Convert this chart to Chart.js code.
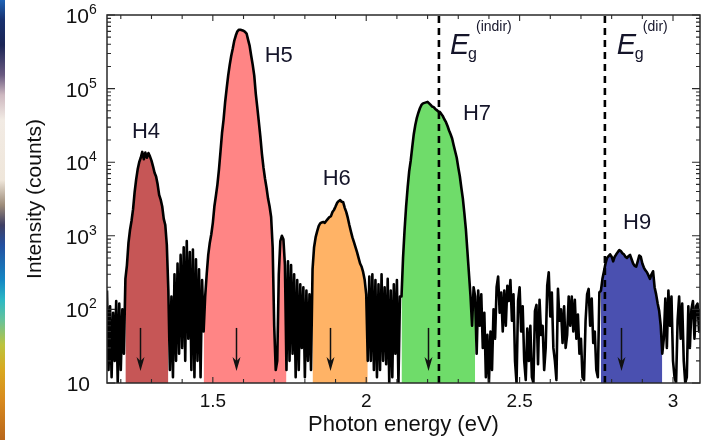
<!DOCTYPE html>
<html>
<head>
<meta charset="utf-8">
<style>
  body { margin: 0; background: #fff; }
  .wrap { position: relative; width: 702px; height: 440px; }
  .strip {
    position: absolute; left: 0; top: 0; width: 5px; height: 440px;
    background: linear-gradient(to bottom, #1f63b5 0px, #18306e 20px, #1b2555 45px, #6a5a80 75px,
      #cdb8c0 95px, #f2ebe4 120px, #efe6da 180px, #9d8c7a 205px, #3f3f63 225px, #2350a0 245px,
      #1487c4 280px, #2cb8c4 300px, #66c29a 320px, #bcc43e 345px, #d9a81f 370px, #d88a1e 400px, #b8661a 440px);
  }
  canvas { position: absolute; left: 0; top: 0; }
</style>
</head>
<body>
<div class="wrap">
  <canvas id="spec" width="702" height="440"></canvas>
  <div class="strip"></div>
</div>

<script src="https://cdn.jsdelivr.net/npm/chart.js"></script>
<script>
const eStart = 1.155;
const eStep = 0.005;

const bgA = [180, 15, 110, 12, 90, 20, 130, 10, 120, 15, 100, 25];
const peakH4 = [260, 400, 800, 1200, 1600, 2300, 3900, 5800, 8000, 10000, 11500, 13800, 11000, 13500, 11500,
  13300, 12000, 10500, 8800, 7200, 6400, 5000, 3600, 3100, 2500, 1700, 1400, 750, 180];
const bgB = [15, 150, 12, 300, 20, 420, 25, 550, 30, 700, 20, 850, 40, 600, 15, 650, 12, 480, 20, 350, 12, 250];
const peakH5 = [50, 150, 300, 550, 800, 1050, 1500, 2500, 3500, 5000, 8000, 14000, 25000, 38000, 65000,
  100000, 150000, 210000, 280000, 350000, 450000, 530000, 600000, 630000, 630000, 620000, 610000, 590000,
  560000, 460000, 380000, 280000, 210000, 150000, 85000, 55000, 35000, 22000, 13000, 8500, 6000, 4500,
  3200, 2500, 1800, 700, 60, 15, 20, 300, 850, 1000, 900, 400, 15];
const bgC = [450, 20, 400, 25, 300, 12, 250, 15, 220, 30, 200, 12, 180, 20, 160, 15];
const peakH6 = [350, 700, 950, 1150, 1350, 1480, 1520, 1540, 1500, 1600, 1700, 1800, 1850, 2100, 2250, 2500,
  2800, 2950, 3050, 2900, 2850, 2400, 2100, 1750, 1400, 1150, 950, 820, 700, 600, 500, 420, 380, 320, 250, 160, 20];
const bgD = [280, 20, 300, 15, 250, 12, 220, 15, 300, 20, 200, 18, 260, 10, 180, 12, 220, 25, 250, 10, 150];
const peakH7 = [150, 500, 1200, 2500, 4500, 7500, 10500, 16000, 24000, 32000, 40000, 47000, 54000, 60000, 63000,
  64000, 65000, 66000, 63000, 60000, 57000, 56000, 53000, 51000, 49000, 48000, 45000, 42000, 38000, 35000,
  31000, 27000, 24000, 21000, 17000, 14000, 11500, 8500, 6500, 4500, 3200, 2000, 1200, 600, 300, 150, 60, 200, 150];
const bgE = [25, 180, 60, 160, 30, 90, 12, 45, 10, 50, 15, 100, 40, 200, 280, 90, 170, 50, 180, 60,
  210, 130, 250, 70, 160, 20, 10, 130, 200, 50, 110, 20, 11, 55, 20, 60, 12, 10, 95, 115,
  18, 135, 45, 60, 15, 30, 210, 320, 80, 170, 30, 20, 11, 190, 70, 100, 35, 110, 30, 45,
  150, 60, 150, 50, 135, 40, 85, 25, 40, 12, 11, 70, 160, 190, 60, 140, 35, 50, 15, 12, 170];
const peakH9 = [180, 260, 330, 420, 500, 530, 560, 520, 450, 520, 560, 600, 640, 620, 580, 560, 520, 500, 530,
  550, 480, 420, 390, 380, 450, 540, 520, 420, 370, 340, 320, 290, 260, 300, 330, 200, 160, 120, 95, 60, 25];
const bgF = [40, 140, 30, 180, 60, 150, 20, 12, 10, 70, 150, 40, 120, 20, 10, 12, 110, 30, 100, 130, 40, 110, 120, 50, 100];

const harmonicNames = ['H4', 'H5', 'H6', 'H7', 'H9'];
const harmonicSegs = [peakH4, peakH5, peakH6, peakH7, peakH9];
const fillColors = ['#c65656', '#ff8585', '#ffb366', '#6fdc6a', '#4a50b0'];
const labelE = [1.282, 1.715, 1.904, 2.361, 2.883];
const labelI = [21300, 230000, 4900, 37400, 1240];
const arrowE = [1.264, 1.575, 1.881, 2.200, 2.829];
const arrowFrom = 56, arrowTo = 14.6;

const gapE = [2.237, 2.778];
const gapSup = ['(indir)', '(dir)'];
const gapLabelE = [2.273, 2.817];
const gapLabelI = 295000;

const xTickValues = [1.5, 2, 2.5, 3];
const yTickValues = [10, 1e2, 1e3, 1e4, 1e5, 1e6];

const FONT = '"Liberation Sans", Arial, Helvetica, sans-serif';
Chart.defaults.font.family = FONT;
Chart.defaults.color = '#111';

// build points
const segments = [bgA, peakH4, bgB, peakH5, bgC, peakH6, bgD, peakH7, bgE, peakH9, bgF];
const counts = [].concat(...segments);
const spectrum = counts.map((c, i) => ({x: +(eStart + i * eStep).toFixed(3), y: c}));

const segStart = new Map();
let off = 0;
segments.forEach(s => { segStart.set(s, off); off += s.length; });

const fillSets = harmonicSegs.map((seg, k) => {
  const s0 = segStart.get(seg);
  return {
    data: spectrum.slice(s0, s0 + seg.length),
    backgroundColor: fillColors[k],
    borderWidth: 0,
    pointRadius: 0,
    fill: 'start'
  };
});

const gapSets = gapE.map(e => ({
  data: [{x: e, y: 10}, {x: e, y: 1e6}],
  borderColor: '#000',
  borderWidth: 2.6,
  borderDash: [7, 5],
  pointRadius: 0,
  fill: false
}));

const decor = {
  id: 'decor',
  afterDatasetsDraw(chart) {
    const {ctx, chartArea: a, scales: {x, y}} = chart;
    ctx.save();

    // frame + inward ticks
    ctx.strokeStyle = '#2a2a2a';
    ctx.lineWidth = 1.5;
    ctx.strokeRect(a.left, a.top, a.right - a.left, a.bottom - a.top);
    ctx.lineWidth = 1.1;
    ctx.beginPath();
    for (let d = 1; d <= 6; d++) {
      for (let m = 1; m <= 9; m++) {
        const v = m * Math.pow(10, d);
        if (v > 1e6) break;
        const py = y.getPixelForValue(v);
        const len = m === 1 ? 8 : 4;
        ctx.moveTo(a.left, py); ctx.lineTo(a.left + len, py);
        ctx.moveTo(a.right, py); ctx.lineTo(a.right - len, py);
      }
    }
    for (let k = 12; k <= 30; k++) {
      const px = x.getPixelForValue(k / 10);
      const len = k % 5 === 0 ? 6 : 4;
      ctx.moveTo(px, a.bottom); ctx.lineTo(px, a.bottom - len);
      ctx.moveTo(px, a.top); ctx.lineTo(px, a.top + len);
    }
    ctx.stroke();

    // harmonic arrows
    ctx.fillStyle = '#111';
    ctx.strokeStyle = '#111';
    ctx.lineWidth = 1.5;
    arrowE.forEach(e => {
      const px = Math.round(x.getPixelForValue(e)) + 0.5;
      const top = y.getPixelForValue(arrowFrom);
      const tip = y.getPixelForValue(arrowTo);
      ctx.beginPath(); ctx.moveTo(px, top); ctx.lineTo(px, tip - 8); ctx.stroke();
      ctx.beginPath();
      ctx.moveTo(px, tip);
      ctx.lineTo(px - 4, tip - 14);
      ctx.lineTo(px, tip - 10);
      ctx.lineTo(px + 4, tip - 14);
      ctx.closePath();
      ctx.fill();
    });

    // harmonic labels
    ctx.fillStyle = '#15152a';
    ctx.textAlign = 'center';
    ctx.textBaseline = 'alphabetic';
    ctx.font = '22px ' + FONT;
    harmonicNames.forEach((t, k) => {
      ctx.fillText(t, x.getPixelForValue(labelE[k]), y.getPixelForValue(labelI[k]));
    });

    // band gap labels
    ctx.textAlign = 'left';
    gapSup.forEach((sup, k) => {
      const px = x.getPixelForValue(gapLabelE[k]);
      const py = y.getPixelForValue(gapLabelI);
      ctx.font = 'italic 29px ' + FONT;
      ctx.fillText('E', px, py);
      ctx.font = '16px ' + FONT;
      ctx.fillText('g', px + 18, py + 5);
      ctx.font = '14px ' + FONT;
      ctx.fillText(sup, px + 26, py - 23);
    });
    ctx.restore();
  },
  afterDraw(chart) {
    const {ctx, chartArea: a, scales: {y}} = chart;
    ctx.save();
    ctx.fillStyle = '#111';
    ctx.textBaseline = 'alphabetic';
    yTickValues.forEach(v => {
      const py = y.getPixelForValue(v);
      const ex = Math.round(Math.log10(v));
      ctx.font = '21px ' + FONT;
      ctx.textAlign = 'right';
      if (ex === 1) {
        ctx.fillText('10', a.left - 17, py + 8);
      } else {
        ctx.fillText('10', a.left - 18, py + 8);
        ctx.font = '14px ' + FONT;
        ctx.textAlign = 'left';
        ctx.fillText(String(ex), a.left - 18, py - 1);
      }
    });
    ctx.translate(35, (a.top + a.bottom) / 2);
    ctx.rotate(-Math.PI / 2);
    ctx.font = '21px ' + FONT;
    ctx.textAlign = 'center';
    ctx.textBaseline = 'middle';
    ctx.fillText('Intensity (counts)', 0, 0);
    ctx.restore();
  }
};

new Chart(document.getElementById('spec'), {
  type: 'line',
  data: {
    datasets: [
      ...gapSets,
      {
        data: spectrum,
        borderColor: '#000',
        borderWidth: 2.6,
        borderJoinStyle: 'round',
        pointRadius: 0,
        fill: false
      },
      ...fillSets
    ]
  },
  options: {
    responsive: false,
    animation: false,
    devicePixelRatio: 1,
    layout: {padding: {top: 15, right: 2, left: 0, bottom: 0}},
    plugins: {legend: {display: false}, tooltip: {enabled: false}},
    scales: {
      x: {
        type: 'linear',
        min: 1.155,
        max: 3.088,
        grid: {display: false, drawTicks: false},
        border: {display: false},
        afterBuildTicks: s => { s.ticks = xTickValues.map(v => ({value: v})); },
        afterFit: s => { s.height = 57; },
        ticks: {
          font: {size: 19},
          color: '#111',
          padding: 7,
          maxRotation: 0,
          callback: v => String(v)
        },
        title: {
          display: true,
          text: 'Photon energy (eV)',
          font: {size: 22},
          color: '#111',
          padding: {top: 0, bottom: 2}
        }
      },
      y: {
        type: 'logarithmic',
        min: 10,
        max: 1e6,
        grid: {display: false},
        border: {display: false},
        ticks: {display: false},
        afterFit: s => { s.width = 107; }
      }
    }
  },
  plugins: [decor]
});
</script>
</body>
</html>
